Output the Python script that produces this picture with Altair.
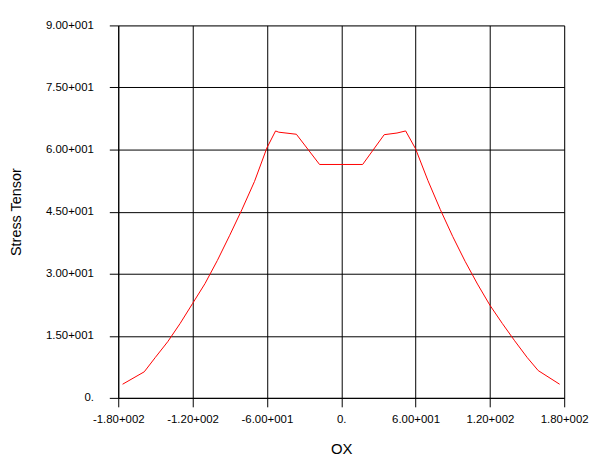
import altair as alt
import pandas as pd

# Curve data
ox = [-176.5, -159, -150, -140, -130, -120, -110, -100, -90, -80, -70, -60, -53, -50.4, -36.2, -17.5,
      17.3, 34.7, 45, 52, 60, 70, 80, 90, 100, 110, 120, 130, 140, 150, 159, 176.3]
stress = [3.3, 6.3, 9.8, 13.6, 18.0, 22.8, 27.6, 33.2, 39.3, 45.6, 52.3, 60.4, 64.5, 64.2, 63.7, 56.4,
          56.4, 63.6, 64.0, 64.5, 60.2, 52.5, 45.5, 39.0, 33.0, 27.5, 22.4, 18.0, 13.8, 9.8, 6.6, 3.3]

# Tick values and labels
x_ticks = [-180, -120, -60, 0, 60, 120, 180]
x_labels = ["-1.80+002", "-1.20+002", "-6.00+001", "0.", "6.00+001", "1.20+002", "1.80+002"]
y_ticks = [0, 15, 30, 45, 60, 75, 90]
y_labels = ["0.", "1.50+001", "3.00+001", "4.50+001", "6.00+001", "7.50+001", "9.00+001"]


def label_expr(vals, labs):
    expr = "''"
    for v, l in reversed(list(zip(vals, labs))):
        expr = f"(abs(datum.value - ({v})) < 1e-6 ? '{l}' : {expr})"
    return expr


df = pd.DataFrame({"x": ox, "y": stress})

axis_common = dict(
    grid=True, gridColor="black", gridOpacity=1, gridWidth=1,
    domainColor="black", domainWidth=1,
    tickColor="black", tickSize=9, tickWidth=1,
    labelFont="Liberation Sans", labelFontSize=11.5, labelColor="black",
    titleFont="Liberation Sans", titleFontWeight="normal", titleColor="black",
)

chart = alt.Chart(df).mark_line(color="red", strokeWidth=1).encode(
    x=alt.X("x:Q",
            scale=alt.Scale(domain=[-180, 180], nice=False, zero=False),
            axis=alt.Axis(values=x_ticks, labelExpr=label_expr(x_ticks, x_labels),
                          title="OX", titleFontSize=15, titleX=224.5, titleY=51,
                          titleBaseline="middle", labelPadding=7, labelFlush=False,
                          **axis_common)),
    y=alt.Y("y:Q",
            scale=alt.Scale(domain=[0, 90], nice=False),
            axis=alt.Axis(values=y_ticks, labelExpr=label_expr(y_ticks, y_labels),
                          title="Stress Tensor", titleFontSize=14.5, titleX=-102, titleY=187.5,
                          titleAngle=-90, titleBaseline="middle", titleAlign="center",
                          labelPadding=16, labelFlush=False,
                          **axis_common)),
).properties(
    width=449, height=375,
    autosize=alt.AutoSizeParams(type="none"),
    padding={"left": 111, "top": 16, "right": 30, "bottom": 60},
).configure_view(stroke="black", strokeWidth=1).configure(background="white")

chart.save("out.html", embed_options={"renderer": "svg", "actions": False})
